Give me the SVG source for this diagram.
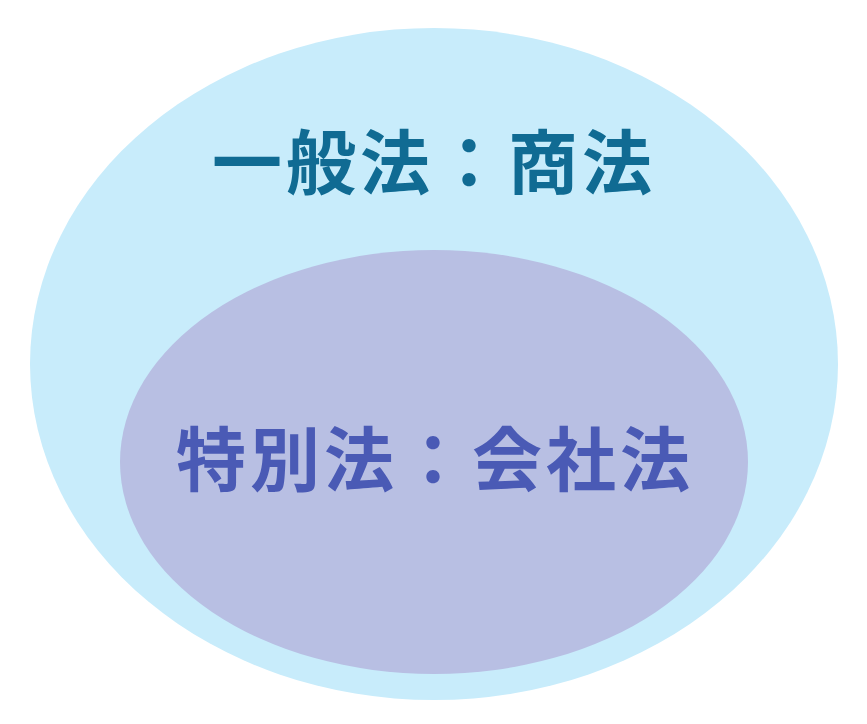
<svg xmlns="http://www.w3.org/2000/svg" width="867" height="724" viewBox="0 0 867 724">
<style>
.t{font-family:"Noto Sans CJK JP","Noto Sans CJK SC",sans-serif;font-weight:bold;font-size:70px;text-anchor:middle;dominant-baseline:central}
</style>
<rect width="867" height="724" fill="#ffffff"/>
<g id="general">
<ellipse cx="434" cy="364" rx="404" ry="336" fill="#c8ecfb"/>
<text class="t" x="434" y="158" fill="#106b93" letter-spacing="4">一般法：商法</text>
</g>
<g id="special">
<ellipse cx="434" cy="462" rx="314" ry="212" fill="#b8bfe3"/>
<text class="t" x="435" y="455" fill="#4a5ab5" letter-spacing="4">特別法：会社法</text>
</g>
<g id="connectors"/>
</svg>
